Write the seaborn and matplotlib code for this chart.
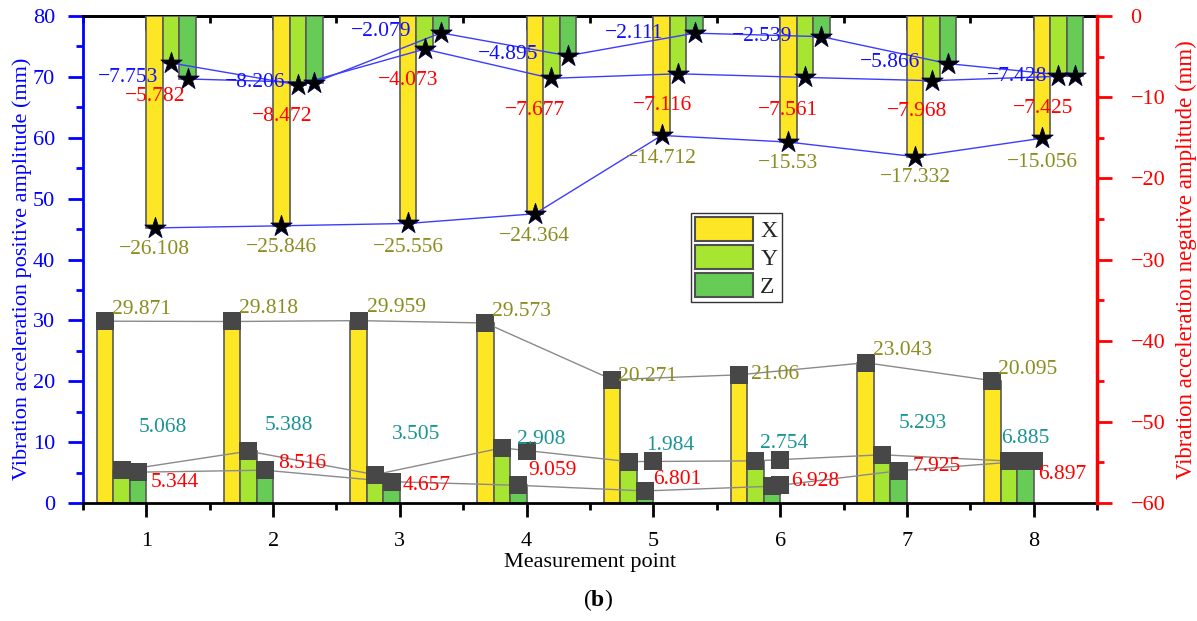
import numpy as np
import matplotlib
matplotlib.use("Agg")
import matplotlib.pyplot as plt
import matplotlib.patches as mpatches
from matplotlib.ticker import MultipleLocator
import seaborn as sns

# ---- data -------------------------------------------------------------
points = [1, 2, 3, 4, 5, 6, 7, 8]
components = ["X", "Y", "Z"]

pos_x = [29.871, 29.818, 29.959, 29.573, 20.271, 21.06, 23.043, 20.095]
pos_y = [5.344, 8.516, 4.657, 9.059, 6.801, 6.928, 7.925, 6.897]
pos_z = [5.068, 5.388, 3.505, 2.908, 1.984, 2.754, 5.293, 6.885]

neg_x = [-26.108, -25.846, -25.556, -24.364, -14.712, -15.53, -17.332, -15.056]
neg_y = [-5.782, -8.472, -4.073, -7.677, -7.116, -7.561, -7.968, -7.425]
neg_z = [-7.753, -8.206, -2.079, -4.895, -2.111, -2.539, -5.866, -7.428]

left_ticks = [0, 10, 20, 30, 40, 50, 60, 70, 80]
right_ticks = [-60, -50, -40, -30, -20, -10, 0]

# measurement points where the Y / Z curves carry an extra marker on the tick
y_extra_marks = [4, 5, 6, 8]
z_extra_marks = [6, 8]

# ---- styling ----------------------------------------------------------
sns.set_theme(style="ticks")
plt.rcParams["font.family"] = ["Liberation Serif", "DejaVu Serif"]
plt.rcParams["mathtext.fontset"] = "custom"
plt.rcParams["mathtext.rm"] = "Liberation Serif"
plt.rcParams["mathtext.bf"] = "Liberation Serif:bold"
plt.rcParams["axes.unicode_minus"] = True

bar_colors = {"X": "#FDE725", "Y": "#A6E632", "Z": "#66CC55"}
bar_edge = "#5A5A5A"
square_color = "#474747"
x_lab_color = "#8C8C20"
y_lab_color = "#FF0000"
z_pos_color = "#1A9494"
z_neg_color = "#1010FF"

bar_w = 0.13
pos_offsets = {"X": -0.325, "Y": -0.195, "Z": -0.065}
neg_offsets = {"X": 0.065, "Y": 0.195, "Z": 0.325}

# label offsets in pixels (dx, dy); dy positive = upwards
pos_x_lab = [(7, 12), (7, 12.5), (8, 13.5), (7, 11), (6, 3), (12, 0), (7, 12.5), (6, 11.5)]
pos_y_lab = [(29, -12.5), (30, -12), (27, -11), (26, -23), (24, -18), (36, -21), (30, -12), (29, -13)]
pos_z_lab = [(1, 45), (0, 45), (0, 47), (-1, 46), (1, 45), (-12, 43), (0, 47), (-24, 23)]
neg_x_lab = [(0, -22), (0, -22), (0, -24), (0, -23), (0, -23), (0, -21), (0, -21), (0, -24)]
neg_y_lab = [(-16, -34), (-16, -32), (-16, -31), (-16, -32), (-16, -32), (-17, -33), (-15, -31), (-15, -32)]
neg_z_lab = [(-59, 1), (-59, 0), (-60, 1), (-60, 1), (-60, 0), (-59, 0), (-58, 1), (-58, 0)]

LAB_FS = 15.5
TICK_FS = 16

fig = plt.figure(figsize=(11.97, 6.21), dpi=100)
ax = fig.add_axes([0.0693, 0.19, 0.9165 - 0.0693, 0.9742 - 0.19])
ax2 = ax.twinx()

pts = np.array(points, dtype=float)
pos_vals = {"X": pos_x, "Y": pos_y, "Z": pos_z}
neg_vals = {"X": neg_x, "Y": neg_y, "Z": neg_z}


def fmt(v):
    return str(v).replace("-", "\u2212")


# ---- positive amplitudes (left axis) ----------------------------------
for c in components:
    sns.barplot(x=pts + pos_offsets[c], y=pos_vals[c], native_scale=True, width=bar_w,
                orient="x", color=bar_colors[c], saturation=1, errorbar=None,
                edgecolor=bar_edge, linewidth=1.2, ax=ax, zorder=2)

for c in components:
    xs = pts + pos_offsets[c]
    sns.lineplot(x=xs, y=pos_vals[c], color="#8A8A8A", lw=1.0, sort=False,
                 estimator=None, ax=ax, zorder=3)
    sns.scatterplot(x=xs, y=pos_vals[c], marker="s", s=150, color=square_color,
                    edgecolor=square_color, linewidth=0, ax=ax, zorder=4)

# extra markers sitting on the Y / Z curves at the tick positions
for c, marks in (("Y", y_extra_marks), ("Z", z_extra_marks)):
    xs = pts + pos_offsets[c]
    mx = np.array(marks, dtype=float)
    my = np.interp(mx, xs, pos_vals[c])
    sns.scatterplot(x=mx, y=my, marker="s", s=150, color=square_color,
                    edgecolor=square_color, linewidth=0, ax=ax, zorder=4)

for i, p in enumerate(pts):
    ax.annotate(fmt(pos_x[i]), (p + pos_offsets["X"], pos_x[i]), xytext=pos_x_lab[i],
                textcoords="offset pixels", ha="left", va="center",
                color=x_lab_color, fontsize=LAB_FS, zorder=6)
    ax.annotate(fmt(pos_y[i]), (p + pos_offsets["Y"], pos_y[i]), xytext=pos_y_lab[i],
                textcoords="offset pixels", ha="left", va="center",
                color=y_lab_color, fontsize=LAB_FS, zorder=6)
    ax.annotate(fmt(pos_z[i]), (p + pos_offsets["Z"], pos_z[i]), xytext=pos_z_lab[i],
                textcoords="offset pixels", ha="left", va="center",
                color=z_pos_color, fontsize=LAB_FS, zorder=6)

# ---- negative amplitudes (right axis) ---------------------------------
for c in components:
    sns.barplot(x=pts + neg_offsets[c], y=neg_vals[c], native_scale=True, width=bar_w,
                orient="x", color=bar_colors[c], saturation=1, errorbar=None,
                edgecolor=bar_edge, linewidth=1.2, ax=ax2, zorder=2)

for c in components:
    xs = pts + neg_offsets[c]
    sns.lineplot(x=xs, y=neg_vals[c], color="#3C3CFF", lw=1.0, sort=False,
                 estimator=None, ax=ax2, zorder=3)
    sns.scatterplot(x=xs, y=neg_vals[c], marker="*", s=260, color="black",
                    edgecolor="#000040", linewidth=0.6, ax=ax2, zorder=4)

for i, p in enumerate(pts):
    ax2.annotate(fmt(neg_x[i]), (p + neg_offsets["X"], neg_x[i]), xytext=neg_x_lab[i],
                 textcoords="offset pixels", ha="center", va="center",
                 color=x_lab_color, fontsize=LAB_FS, zorder=6)
    ax2.annotate(fmt(neg_y[i]), (p + neg_offsets["Y"], neg_y[i]), xytext=neg_y_lab[i],
                 textcoords="offset pixels", ha="center", va="center",
                 color=y_lab_color, fontsize=LAB_FS, zorder=6)
    ax2.annotate(fmt(neg_z[i]), (p + neg_offsets["Z"], neg_z[i]), xytext=neg_z_lab[i],
                 textcoords="offset pixels", ha="center", va="center",
                 color=z_neg_color, fontsize=LAB_FS, zorder=6)

# ---- axes -------------------------------------------------------------
ax.set_xlim(0.5, 8.5)
ax.set_ylim(0, 80)
ax2.set_ylim(-60, 0)

ax.set_xticks(points)
ax.set_xticklabels([str(p) for p in points])
ax.xaxis.set_minor_locator(MultipleLocator(0.5))
ax.set_yticks(left_ticks)
ax.yaxis.set_minor_locator(MultipleLocator(5))
ax2.set_yticks(right_ticks)
ax2.yaxis.set_minor_locator(MultipleLocator(5))

ax.tick_params(axis="x", which="major", direction="out", length=10, width=2,
               color="black", labelcolor="black", labelsize=TICK_FS, pad=11)
ax.tick_params(axis="x", which="minor", direction="out", length=5, width=2, color="black")
ax.tick_params(axis="y", which="major", direction="out", length=11, width=2,
               color="blue", labelcolor="blue", labelsize=TICK_FS, pad=9)
ax.tick_params(axis="y", which="minor", direction="out", length=5, width=2, color="blue")
ax2.tick_params(axis="y", which="major", direction="out", length=11, width=2,
                color="red", labelcolor="red", labelsize=TICK_FS, pad=13)
ax2.tick_params(axis="y", which="minor", direction="out", length=5, width=2, color="red")

top = ax.secondary_xaxis("top")
top.set_xticks(points)
top.xaxis.set_minor_locator(MultipleLocator(0.5))
top.tick_params(axis="x", which="major", direction="in", length=10, width=2,
                color="black", labeltop=False)
top.tick_params(axis="x", which="minor", direction="in", length=5, width=2, color="black")
top.spines["top"].set_linewidth(2)

for s in ("top", "bottom"):
    ax.spines[s].set_linewidth(2)
    ax.spines[s].set_color("black")
    ax2.spines[s].set_visible(False)
ax.spines["left"].set_color("blue")
ax.spines["left"].set_linewidth(2)
ax.spines["right"].set_visible(False)
ax2.spines["left"].set_visible(False)
ax2.spines["right"].set_color("red")
ax2.spines["right"].set_linewidth(2.5)

ax.set_xlabel("Measurement point", fontsize=16, color="black", labelpad=1)
ax.set_ylabel("Vibration acceleration positive amplitude (mm)", fontsize=16,
              color="blue", labelpad=1)
ax.yaxis.label.set_y(0.481)
ax2.set_ylabel("Vibration acceleration negative amplitude (mm)", fontsize=16.5,
               color="red", labelpad=8)

# ---- legend -----------------------------------------------------------
handles = [mpatches.Patch(facecolor=bar_colors[c], edgecolor="#505050", linewidth=1.5,
                          label=c) for c in components]
leg = ax2.legend(handles=handles, loc="upper left", bbox_to_anchor=(0.5996, 0.5955),
                 borderaxespad=0, fontsize=17, handlelength=2.45, handleheight=1.2,
                 labelspacing=0.12, handletextpad=0.3, borderpad=0.18,
                 frameon=True, fancybox=False, framealpha=1, edgecolor="#333333")
leg.get_frame().set_linewidth(1.0)
leg.set_zorder(10)

fig.text(0.4996, 1 - 600 / 621, r"($\mathbf{b}$)", ha="center", va="center",
         fontsize=17, color="black")

fig.savefig("out.png", dpi=100)
